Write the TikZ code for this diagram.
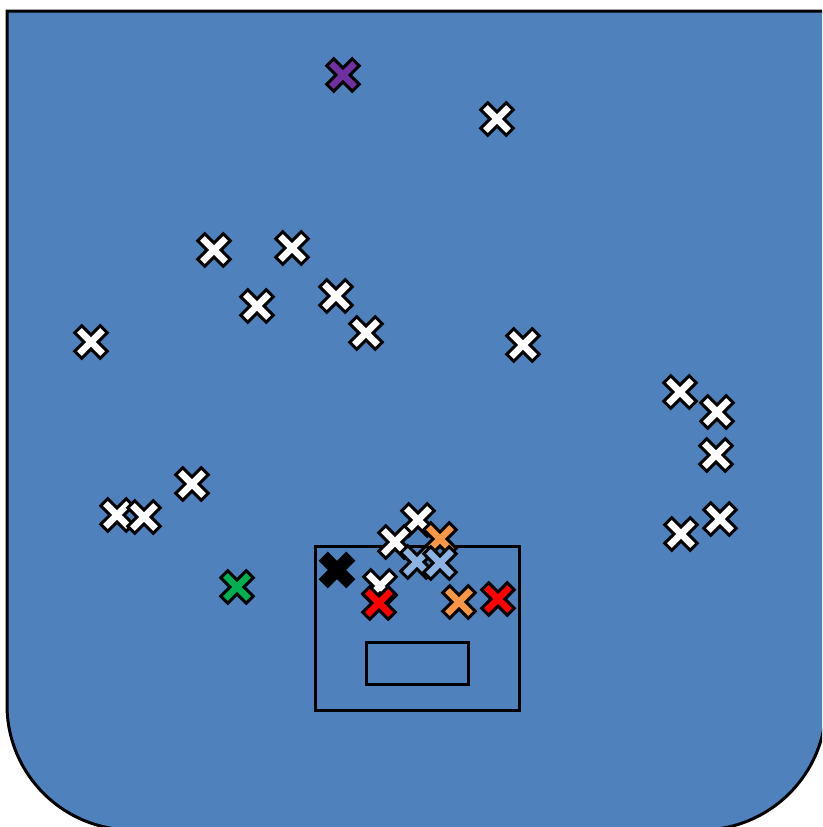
\documentclass[tikz,border=0pt]{standalone}
\usepackage{tikz}
\definecolor{bgblue}{HTML}{4F81BD}
\definecolor{lblue}{HTML}{8DB3E2}
\definecolor{xorange}{HTML}{F79646}
\definecolor{xred}{HTML}{FF0000}
\definecolor{xgreen}{HTML}{00B050}
\definecolor{xpurple}{HTML}{7030A0}
\tikzset{
  pics/xmark/.style={code={
    \filldraw[fill=#1, draw=black, line width=3pt, line join=miter, rotate=45]
      (-5,-18) -- (5,-18) -- (5,-5) -- (18,-5) -- (18,5) -- (5,5)
      -- (5,18) -- (-5,18) -- (-5,5) -- (-18,5) -- (-18,-5) -- (-5,-5) -- cycle;
  }},
  frame/.style={draw=black, line width=3pt},
}
\begin{document}
\begin{tikzpicture}[x=1pt,y=-1pt]
\useasboundingbox (0,0) rectangle (822,827);
\clip (0,0) rectangle (822,827);
% main shape
\draw[frame, fill=bgblue] (7,11) -- (826,11) -- (826,705)
  arc[start angle=0, end angle=90, radius=125] -- (132,830)
  arc[start angle=90, end angle=180, radius=125] -- cycle;
% rectangles
\node[frame, minimum width=204pt, minimum height=164pt, inner sep=0pt] (bigbox) at (417,628) {};
\node[frame, minimum width=102pt, minimum height=42pt, inner sep=0pt] (smallbox) at (417,663) {};
% white markers
\pic (w1) at (497,119) {xmark=white};
\pic (w2) at (214,250) {xmark=white};
\pic (w3) at (292,248) {xmark=white};
\pic (w4) at (257,306) {xmark=white};
\pic (w5) at (336,296) {xmark=white};
\pic (w6) at (366,333) {xmark=white};
\pic (w7) at (91,342) {xmark=white};
\pic (w8) at (523,345) {xmark=white};
\pic (w9) at (680,392) {xmark=white};
\pic (w10) at (717,412) {xmark=white};
\pic (w11) at (716,455) {xmark=white};
\pic (w12) at (192,484) {xmark=white};
\pic (w13) at (117,515) {xmark=white};
\pic (w14) at (144,517) {xmark=white};
\pic (w15) at (720,519) {xmark=white};
\pic (w16) at (681,534) {xmark=white};
\pic (w17) at (418,520) {xmark=white};
\pic (w18) at (395,542) {xmark=white};
\pic (w19) at (380,586) {xmark=white};
% coloured markers
\pic (p1) at (343,75) {xmark=xpurple};
\pic (g1) at (237,587) {xmark=xgreen};
\pic (k1) at (337,570) {xmark=black};
\pic (o1) at (440,539) {xmark=xorange};
\pic (b1) at (417,562) {xmark=lblue};
\pic (b2) at (440,563) {xmark=lblue};
\pic (r1) at (379,603) {xmark=xred};
\pic (o2) at (459,602) {xmark=xorange};
\pic (r2) at (498,599) {xmark=xred};
\end{tikzpicture}
\end{document}
